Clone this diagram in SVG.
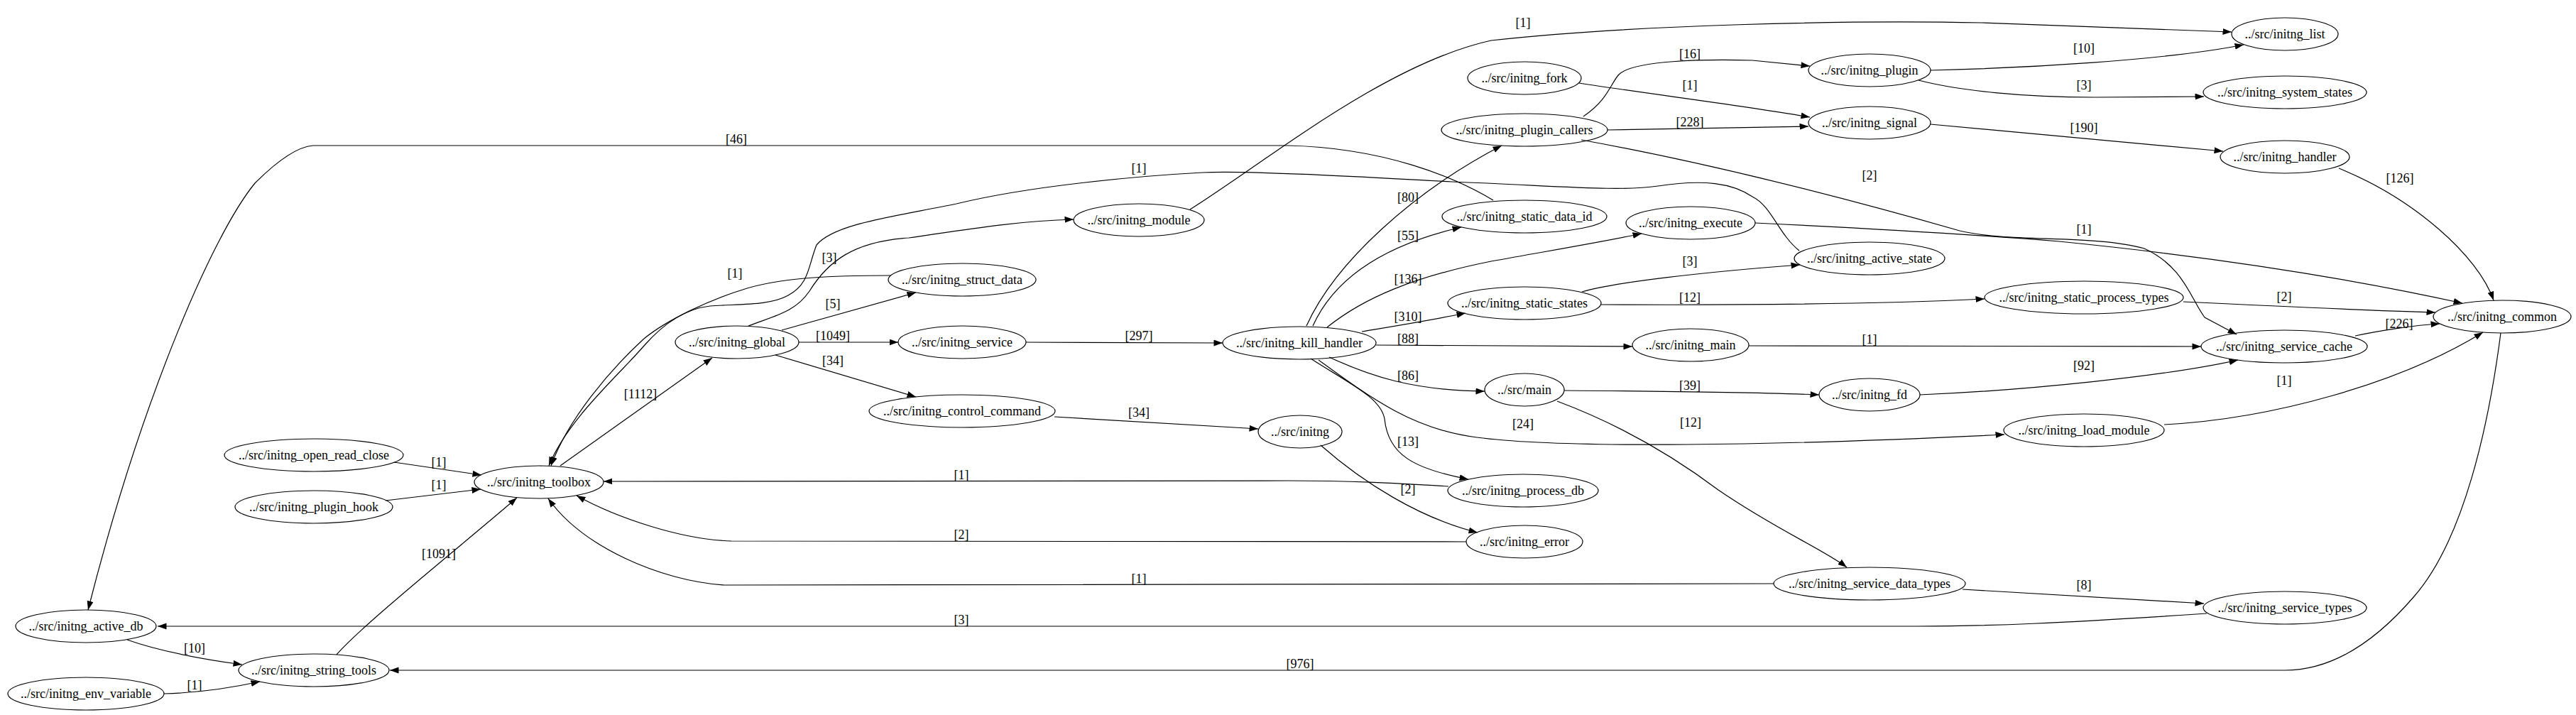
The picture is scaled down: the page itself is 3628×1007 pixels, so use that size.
<svg xmlns="http://www.w3.org/2000/svg" width="3628" height="1007" viewBox="0 0 3628 1007">
<defs>
<marker id="ah" markerUnits="userSpaceOnUse" markerWidth="13" markerHeight="10" refX="12.5" refY="4.5" orient="auto">
<path d="M0,0 L12.5,4.5 L0,9 Z" fill="#000"/>
</marker>
</defs>
<style>
.n ellipse{fill:none;stroke:#000;stroke-width:1.2}
text{font-family:"Liberation Serif","Times New Roman",serif;font-size:18px;text-anchor:middle;fill:#000}
.e path{fill:none;stroke:#000;stroke-width:1.2;marker-end:url(#ah)}
</style>
<rect width="3628" height="1007" fill="#fff"/>
<g id="edges" class="e">
<path d="M1676,295 C1780,230 1950,90 2100,57 C2300,35 2600,28 2790,32 L3143,45"/>
<path d="M2224,117 C2320,132 2450,148 2549,165"/>
<path d="M2230,164 C2265,140 2268,118 2280,105 C2300,85 2400,83 2468,85 L2549,93"/>
<path d="M2264,183 L2547,178"/>
<path d="M2227,197 C2420,232 2620,285 2760,325 C2830,342 2950,330 3020,350 C3075,375 3085,420 3105,447 L3150,471"/>
<path d="M2719,99 C2850,96 3050,85 3160,63"/>
<path d="M2702,113 C2760,128 2850,137 2950,137 L3104,136"/>
<path d="M2719,175 L3131,213"/>
<path d="M3294,237 C3400,280 3490,360 3512,423"/>
<path d="M2103,282 C2050,250 1950,208 1814,205 L441,205 C415,207 385,232 359,258 C300,330 200,560 124,859"/>
<path d="M2534,353 C2505,330 2495,290 2468,277 C2440,258 2400,252 2335,262 C2280,270 2200,262 2045,256 C1900,248 1750,240 1694,243 C1600,248 1450,262 1347,287 C1260,305 1175,315 1150,345 C1138,375 1140,400 1110,416 C1085,430 1045,428 1000,431 C965,435 935,455 907,487 C870,530 800,590 773,656"/>
<path d="M1054,459 C1090,445 1120,440 1140,410 C1165,370 1200,340 1280,335 C1350,325 1430,311 1512,309"/>
<path d="M1254,388 C1180,388 1100,390 1046,408 C1000,422 940,450 907,477 C860,520 800,590 776,656"/>
<path d="M1101,465 L1290,412"/>
<path d="M1125,482 L1265,482"/>
<path d="M1092,500 L1290,559"/>
<path d="M1445,482 L1722,483"/>
<path d="M1485,587 L1772,604"/>
<path d="M789,656 L1003,504"/>
<path d="M555,651 L678,669"/>
<path d="M543,705 L677,689"/>
<path d="M474,922 C510,880 660,760 728,701"/>
<path d="M2040,685 C1960,680 1900,677 1814,677 L850,678"/>
<path d="M2065,763 L1030,762 C960,760 870,730 812,698"/>
<path d="M2498,822 L1020,824 C930,818 820,770 772,702"/>
<path d="M3108,864 C2900,878 2800,882 2700,882 L222,882"/>
<path d="M179,901 C210,912 260,925 341,936"/>
<path d="M231,977 C270,976 320,970 366,960"/>
<path d="M3522,469 C3505,600 3470,760 3400,840 C3340,910 3280,944 3218,944 L549,944"/>
<path d="M2764,830 L3104,850"/>
<path d="M2193,565 C2260,590 2340,630 2420,690 C2500,745 2570,775 2601,799"/>
<path d="M1840,459 C1880,370 1990,270 2115,205"/>
<path d="M1849,459 C1880,390 1950,345 2058,320"/>
<path d="M1869,461 C1920,420 1990,390 2100,368 C2200,350 2260,340 2312,329"/>
<path d="M1918,467 C1960,460 2010,452 2064,441"/>
<path d="M1938,486 L2299,488"/>
<path d="M1872,503 C1930,530 1990,550 2091,551"/>
<path d="M1846,505 C1900,540 1945,560 1950,590 C1955,640 1990,660 2068,675"/>
<path d="M1857,507 C1930,560 1990,605 2080,616 C2200,632 2500,628 2823,612"/>
<path d="M1860,627 C1920,680 2000,730 2081,750"/>
<path d="M2228,411 C2270,398 2400,383 2535,373"/>
<path d="M2255,429 C2450,430 2650,428 2795,421"/>
<path d="M2463,487 L3100,488"/>
<path d="M2203,550 C2350,551 2480,553 2562,556"/>
<path d="M2704,556 C2850,550 3050,530 3152,507"/>
<path d="M3075,425 C3200,431 3330,437 3430,440"/>
<path d="M3317,473 C3350,466 3400,458 3436,456"/>
<path d="M3048,598 C3200,590 3380,540 3497,468"/>
<path d="M2472,314 C2600,320 2750,328 2900,340 C3100,360 3300,390 3468,427"/>
</g>
<g id="edge-labels">
<text x="2145" y="38">[1]</text>
<text x="2380" y="126">[1]</text>
<text x="2380" y="82">[16]</text>
<text x="2380" y="178">[228]</text>
<text x="2633" y="253">[2]</text>
<text x="2935" y="74">[10]</text>
<text x="2935" y="126">[3]</text>
<text x="2935" y="186">[190]</text>
<text x="3380" y="257">[126]</text>
<text x="1037" y="202">[46]</text>
<text x="1604" y="243">[1]</text>
<text x="1168" y="369">[3]</text>
<text x="1035" y="391">[1]</text>
<text x="1173" y="434">[5]</text>
<text x="1173" y="479">[1049]</text>
<text x="1173" y="514">[34]</text>
<text x="1604" y="479">[297]</text>
<text x="1604" y="587">[34]</text>
<text x="902" y="561">[1112]</text>
<text x="618" y="657">[1]</text>
<text x="618" y="689">[1]</text>
<text x="618" y="786">[1091]</text>
<text x="1354" y="675">[1]</text>
<text x="1354" y="759">[2]</text>
<text x="1604" y="821">[1]</text>
<text x="1354" y="879">[3]</text>
<text x="274" y="919">[10]</text>
<text x="274" y="971">[1]</text>
<text x="1831" y="941">[976]</text>
<text x="2935" y="830">[8]</text>
<text x="2381" y="601">[12]</text>
<text x="1983" y="284">[80]</text>
<text x="1983" y="338">[55]</text>
<text x="1983" y="399">[136]</text>
<text x="1983" y="452">[310]</text>
<text x="1983" y="483">[88]</text>
<text x="1983" y="535">[86]</text>
<text x="1983" y="628">[13]</text>
<text x="2145" y="603">[24]</text>
<text x="1983" y="695">[2]</text>
<text x="2380" y="374">[3]</text>
<text x="2380" y="425">[12]</text>
<text x="2633" y="484">[1]</text>
<text x="2380" y="549">[39]</text>
<text x="2935" y="521">[92]</text>
<text x="3217" y="424">[2]</text>
<text x="3379" y="462">[226]</text>
<text x="3217" y="542">[1]</text>
<text x="2935" y="329">[1]</text>
</g>
<g id="n_list" class="n"><ellipse cx="3218" cy="48" rx="75" ry="23"/><text x="3218" y="54">../src/initng_list</text></g>
<g id="n_fork" class="n"><ellipse cx="2147" cy="110" rx="80" ry="23"/><text x="2147" y="116">../src/initng_fork</text></g>
<g id="n_plugin" class="n"><ellipse cx="2633" cy="99" rx="86" ry="23"/><text x="2633" y="105">../src/initng_plugin</text></g>
<g id="n_signal" class="n"><ellipse cx="2633" cy="173" rx="86" ry="23"/><text x="2633" y="179">../src/initng_signal</text></g>
<g id="n_plugin_callers" class="n"><ellipse cx="2147" cy="183" rx="117" ry="23"/><text x="2147" y="189">../src/initng_plugin_callers</text></g>
<g id="n_system_states" class="n"><ellipse cx="3218" cy="130" rx="115" ry="23"/><text x="3218" y="136">../src/initng_system_states</text></g>
<g id="n_handler" class="n"><ellipse cx="3218" cy="221" rx="91" ry="23"/><text x="3218" y="227">../src/initng_handler</text></g>
<g id="n_static_data_id" class="n"><ellipse cx="2147" cy="305" rx="116" ry="23"/><text x="2147" y="311">../src/initng_static_data_id</text></g>
<g id="n_execute" class="n"><ellipse cx="2381" cy="314" rx="91" ry="23"/><text x="2381" y="320">../src/initng_execute</text></g>
<g id="n_active_state" class="n"><ellipse cx="2633" cy="364" rx="106" ry="23"/><text x="2633" y="370">../src/initng_active_state</text></g>
<g id="n_module" class="n"><ellipse cx="1604" cy="310" rx="92" ry="23"/><text x="1604" y="316">../src/initng_module</text></g>
<g id="n_struct_data" class="n"><ellipse cx="1355" cy="394" rx="104" ry="23"/><text x="1355" y="400">../src/initng_struct_data</text></g>
<g id="n_static_states" class="n"><ellipse cx="2147" cy="427" rx="108" ry="23"/><text x="2147" y="433">../src/initng_static_states</text></g>
<g id="n_static_process_types" class="n"><ellipse cx="2935" cy="419" rx="140" ry="23"/><text x="2935" y="425">../src/initng_static_process_types</text></g>
<g id="n_common" class="n"><ellipse cx="3524" cy="446" rx="97" ry="23"/><text x="3524" y="452">../src/initng_common</text></g>
<g id="n_global" class="n"><ellipse cx="1038" cy="482" rx="87" ry="23"/><text x="1038" y="488">../src/initng_global</text></g>
<g id="n_service" class="n"><ellipse cx="1355" cy="482" rx="90" ry="23"/><text x="1355" y="488">../src/initng_service</text></g>
<g id="n_kill_handler" class="n"><ellipse cx="1830" cy="483" rx="108" ry="23"/><text x="1830" y="489">../src/initng_kill_handler</text></g>
<g id="n_initng_main" class="n"><ellipse cx="2381" cy="486" rx="82" ry="23"/><text x="2381" y="492">../src/initng_main</text></g>
<g id="n_service_cache" class="n"><ellipse cx="3217" cy="488" rx="117" ry="23"/><text x="3217" y="494">../src/initng_service_cache</text></g>
<g id="n_main" class="n"><ellipse cx="2147" cy="549" rx="56" ry="23"/><text x="2147" y="555">../src/main</text></g>
<g id="n_fd" class="n"><ellipse cx="2633" cy="556" rx="71" ry="23"/><text x="2633" y="562">../src/initng_fd</text></g>
<g id="n_control_command" class="n"><ellipse cx="1355" cy="579" rx="131" ry="23"/><text x="1355" y="585">../src/initng_control_command</text></g>
<g id="n_load_module" class="n"><ellipse cx="2935" cy="606" rx="113" ry="23"/><text x="2935" y="612">../src/initng_load_module</text></g>
<g id="n_initng" class="n"><ellipse cx="1831" cy="608" rx="59" ry="23"/><text x="1831" y="614">../src/initng</text></g>
<g id="n_open_read_close" class="n"><ellipse cx="442" cy="641" rx="126" ry="23"/><text x="442" y="647">../src/initng_open_read_close</text></g>
<g id="n_toolbox" class="n"><ellipse cx="759" cy="679" rx="91" ry="23"/><text x="759" y="685">../src/initng_toolbox</text></g>
<g id="n_process_db" class="n"><ellipse cx="2145" cy="691" rx="106" ry="23"/><text x="2145" y="697">../src/initng_process_db</text></g>
<g id="n_plugin_hook" class="n"><ellipse cx="442" cy="714" rx="111" ry="23"/><text x="442" y="720">../src/initng_plugin_hook</text></g>
<g id="n_error" class="n"><ellipse cx="2147" cy="763" rx="82" ry="23"/><text x="2147" y="769">../src/initng_error</text></g>
<g id="n_service_data_types" class="n"><ellipse cx="2633" cy="822" rx="135" ry="23"/><text x="2633" y="828">../src/initng_service_data_types</text></g>
<g id="n_service_types" class="n"><ellipse cx="3218" cy="856" rx="115" ry="23"/><text x="3218" y="862">../src/initng_service_types</text></g>
<g id="n_active_db" class="n"><ellipse cx="121" cy="882" rx="99" ry="23"/><text x="121" y="888">../src/initng_active_db</text></g>
<g id="n_string_tools" class="n"><ellipse cx="442" cy="944" rx="106" ry="23"/><text x="442" y="950">../src/initng_string_tools</text></g>
<g id="n_env_variable" class="n"><ellipse cx="121" cy="977" rx="110" ry="23"/><text x="121" y="983">../src/initng_env_variable</text></g>
</svg>
